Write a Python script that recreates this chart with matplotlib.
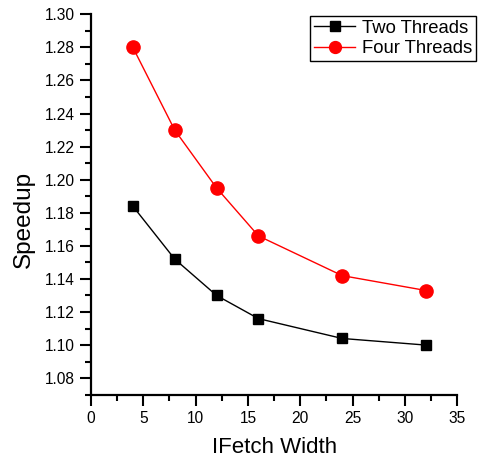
import matplotlib
matplotlib.use("Agg")
import matplotlib.pyplot as plt  # noqa: E402
from matplotlib.ticker import MultipleLocator  # noqa: E402

# IFetch width vs. speedup for two and four threads
fetch_width = [4, 8, 12, 16, 24, 32]
two_threads = [1.184, 1.152, 1.130, 1.116, 1.104, 1.100]
four_threads = [1.280, 1.230, 1.195, 1.166, 1.142, 1.133]

plt.rcParams["font.family"] = ["Liberation Sans", "DejaVu Sans"]

fig = plt.figure(figsize=(4.84, 4.57), dpi=100)
ax = fig.add_axes([91 / 484, 1 - 394.7 / 457, (457.3 - 91) / 484, (394.7 - 14.3) / 457])

ax.plot(fetch_width, two_threads, "-s", color="black", linewidth=1,
        markersize=7.5, label="Two Threads")
ax.plot(fetch_width, four_threads, "-o", color="red", linewidth=1,
        markersize=9.5, label="Four Threads")

ax.set_xlim(0, 35)
ax.set_ylim(1.07, 1.30)
ax.xaxis.set_major_locator(MultipleLocator(5))
ax.xaxis.set_minor_locator(MultipleLocator(2.5))
ax.yaxis.set_major_locator(MultipleLocator(0.02))
ax.yaxis.set_minor_locator(MultipleLocator(0.01))
ax.yaxis.set_major_formatter(plt.FormatStrFormatter("%.2f"))

for side in ("top", "right"):
    ax.spines[side].set_visible(False)
for side in ("left", "bottom"):
    ax.spines[side].set_linewidth(1.6)

ax.tick_params(which="major", direction="out", length=8, width=1.5, labelsize=11.2)
ax.tick_params(which="minor", direction="out", length=4, width=1.5)

ax.set_xlabel("IFetch Width", fontsize=16, labelpad=8)
ax.set_ylabel("Speedup", fontsize=17.5)
# Origin-style placement: y title sits a bit below the axis midpoint
ax.yaxis.set_label_coords(-0.153, 0.46)

leg = ax.legend(loc="upper right", bbox_to_anchor=(476 / 484, 1 - 15.5 / 457),
                bbox_transform=fig.transFigure, fontsize=13.3, fancybox=False,
                framealpha=1, edgecolor="black", borderpad=0.22, handlelength=2.25,
                labelspacing=0.2, handletextpad=0.34, borderaxespad=0,
                markerscale=0.9)
leg.get_frame().set_linewidth(1)

fig.savefig("out.png", dpi=100)
